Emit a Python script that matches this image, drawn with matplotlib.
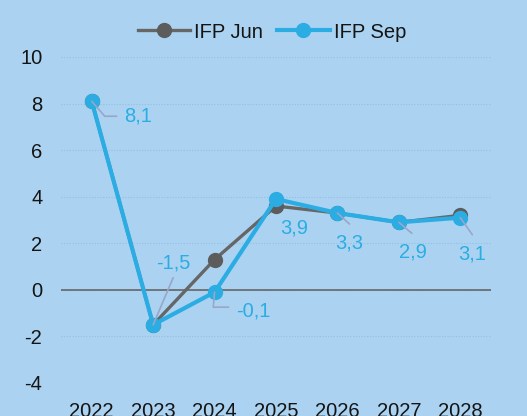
import matplotlib
matplotlib.use("Agg")
import matplotlib.pyplot as plt

plt.rcParams['font.family'] = ['Liberation Sans', 'DejaVu Sans']
plt.rcParams['axes.unicode_minus'] = False

# data
anos = ['2022', '2023', '2024', '2025', '2026', '2027', '2028']
ifp_jun = [8.1, -1.5, 1.3, 3.6, 3.3, 2.9, 3.2]
ifp_sep = [8.1, -1.5, -0.1, 3.9, 3.3, 2.9, 3.1]
rotulos = ['8,1', '-1,5', '-0,1', '3,9', '3,3', '2,9', '3,1']

# label offsets in pixels (text centre relative to the point) and leader ends
offsets = [(46, -15), (20, 62), (39, -19), (18, -29), (12, -30), (14, -30), (12, -36)]
leaders = [(25, -15, 'angle,angleA=0,angleB=-49'), (20, 47, 'arc3'), (14, -15, 'angle,angleA=0,angleB=85'),
           None, (12, -11, 'arc3'), (13, -11, 'arc3'), (12, -17, 'arc3')]

fundo = '#abd3f1'
azul = '#2badE3'
cinza = '#666666'
guia = '#98a6c8'

fig = plt.figure(figsize=(5.27, 4.16), dpi=100, facecolor=fundo)
ax = fig.add_axes([61/527, 33/416, 430/527, 326/416], facecolor=fundo)

x = list(range(len(anos)))

ax.axhline(0, color=cinza, lw=1.2, zorder=1)
l1, = ax.plot(x, ifp_jun, color=cinza, lw=2.4, marker='o', ms=10,
              mfc='#5c5c5c', mec='#5c5c5c', zorder=3, label='IFP Jun')
l2, = ax.plot(x, ifp_sep, color=azul, lw=3, marker='o', ms=10,
              mfc=azul, mec=azul, zorder=4, label='IFP Sep')

for i in range(len(anos)):
    dx, dy = offsets[i]
    ax.annotate(rotulos[i], (x[i], ifp_sep[i]), xytext=(dx, dy), textcoords='offset pixels',
                ha='center', va='center', fontsize=14.5, color=azul, zorder=6)
    if leaders[i] is not None:
        lx, ly, cs = leaders[i]
        ax.annotate('', (x[i], ifp_sep[i]), xytext=(lx, ly), textcoords='offset pixels',
                    arrowprops=dict(arrowstyle='-', color=guia, lw=1.2, shrinkA=0, shrinkB=0,
                                    connectionstyle=cs), zorder=5)

ax.set_xlim(-0.5, 6.5)
ax.set_ylim(-4, 10)
ax.set_yticks(range(-4, 11, 2))
ax.set_xticks(x)
ax.set_xticklabels(anos)
ax.grid(axis='y', color='#93bfe2', ls=(0, (1, 1.5)), lw=0.8)
ax.set_axisbelow(True)
for s in ax.spines.values():
    s.set_visible(False)
ax.tick_params(length=0, labelsize=14.5, colors='#141414', pad=13.5)

fig.legend(handles=[l1, l2], loc='center', bbox_to_anchor=(272/527, 1 - 32/416), ncol=2,
           frameon=False, fontsize=14.5, handlelength=2.6, handletextpad=0.2,
           columnspacing=0.7, labelcolor='#141414')

fig.savefig('out.png', dpi=100, facecolor=fundo)
